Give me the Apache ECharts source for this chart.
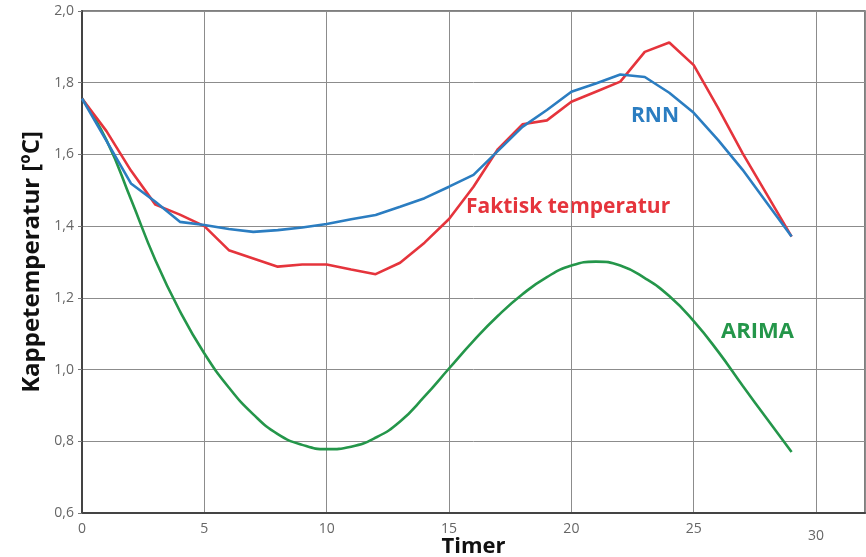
<!DOCTYPE html>
<html>
<head>
<meta charset="utf-8">
<script src="https://cdn.jsdelivr.net/npm/echarts@6/dist/echarts.min.js"></script>
<style>html,body{margin:0;padding:0;background:#fff;}#c{width:866px;height:557px;}</style>
</head>
<body>
<div id="c"></div>
<script>
const hours = [0,1,2,3,4,5,6,7,8,9,10,11,12,13,14,15,16,17,18,19,20,21,22,23,24,25,26,27,28,29];
const faktisk = [1.756,1.665,1.555,1.46,1.432,1.40,1.333,1.31,1.287,1.293,1.293,1.279,1.266,1.298,1.354,1.42,1.51,1.615,1.684,1.695,1.747,1.775,1.803,1.886,1.912,1.849,1.729,1.603,1.487,1.371];
const rnn = [1.756,1.638,1.519,1.468,1.412,1.403,1.392,1.384,1.389,1.396,1.406,1.419,1.431,1.454,1.478,1.51,1.543,1.61,1.677,1.724,1.775,1.798,1.823,1.816,1.772,1.716,1.640,1.557,1.464,1.371];
const arima = [1.756,1.64,1.475,1.305,1.163,1.045,0.95,0.875,0.82,0.79,0.778,0.785,0.81,0.855,0.925,1.003,1.08,1.15,1.21,1.258,1.29,1.301,1.29,1.255,1.205,1.135,1.05,0.955,0.862,0.77];
const xTicks = [0,5,10,15,20,25,30];
const yTicks = [0.6,0.8,1.0,1.2,1.4,1.6,1.8,2.0];

const pairs = arr => hours.map((h,i)=>[h,arr[i]]);
const FONT = 'Open Sans';
const chart = echarts.init(document.getElementById('c'), null, {renderer:'canvas'});
chart.setOption({
  animation:false,
  backgroundColor:'#fff',
  grid:{left:82,top:11,right:1,bottom:44,outerBoundsMode:'none',containLabel:false,show:true,borderColor:'#555',borderWidth:1.5,backgroundColor:'transparent'},
  xAxis:{
    type:'value',min:0,max:32,interval:5,
    name:'Timer',nameLocation:'middle',nameGap:23,nameMoveOverlap:false,
    nameTextStyle:{fontFamily:FONT,fontWeight:'bold',fontSize:22,color:'#111'},
    axisLine:{show:true,lineStyle:{color:'#444',width:2}},
    axisTick:{show:false},
    splitLine:{show:true,lineStyle:{color:'#8c8c8c',width:1}},
    axisLabel:{fontFamily:FONT,fontSize:14,color:'#666',margin:9,
      formatter:v=>xTicks.includes(v)?(v===30?'{low|30}':String(v)):'',
      rich:{low:{fontFamily:FONT,fontSize:14,color:'#666',padding:[7,0,0,0]}}}
  },
  yAxis:{
    type:'value',min:0.6,max:2.0,interval:0.2,
    name:'Kappetemperatur [ºC]',nameLocation:'middle',nameGap:38,nameRotate:90,nameMoveOverlap:false,
    nameTextStyle:{fontFamily:FONT,fontWeight:'bold',fontSize:24,color:'#111'},
    axisLine:{show:true,lineStyle:{color:'#444',width:2}},
    axisTick:{show:true,length:4,lineStyle:{color:'#777'}},
    splitLine:{show:true,lineStyle:{color:'#8c8c8c',width:1}},
    axisLabel:{fontFamily:FONT,fontSize:14,color:'#666',margin:8,
      formatter:v=>{const t=yTicks.find(y=>Math.abs(y-v)<1e-6);return t===undefined?'':t.toFixed(1).replace('.',',');}}
  },
  series:[
    {name:'ARIMA',type:'line',data:pairs(arima),smooth:0.5,showSymbol:false,lineStyle:{color:'#24964a',width:2.6},z:2},
    {name:'Faktisk temperatur',type:'line',data:pairs(faktisk),showSymbol:false,lineStyle:{color:'#e5343c',width:2.6},z:3},
    {name:'RNN',type:'line',data:pairs(rnn),showSymbol:false,lineStyle:{color:'#2b7dc1',width:2.6},z:4}
  ],
  graphic:[
    {type:'text',left:631,top:106,style:{text:'RNN',fontFamily:FONT,fontWeight:'bold',fontSize:21,fill:'#2b7dc1'}},
    {type:'text',left:466,top:197,style:{text:'Faktisk temperatur',fontFamily:FONT,fontWeight:'bold',fontSize:21,fill:'#e5343c'}},
    {type:'text',left:721,top:321,style:{text:'ARIMA',fontFamily:FONT,fontWeight:'bold',fontSize:22,fill:'#24964a'}}
  ]
});
</script>
</body>
</html>
